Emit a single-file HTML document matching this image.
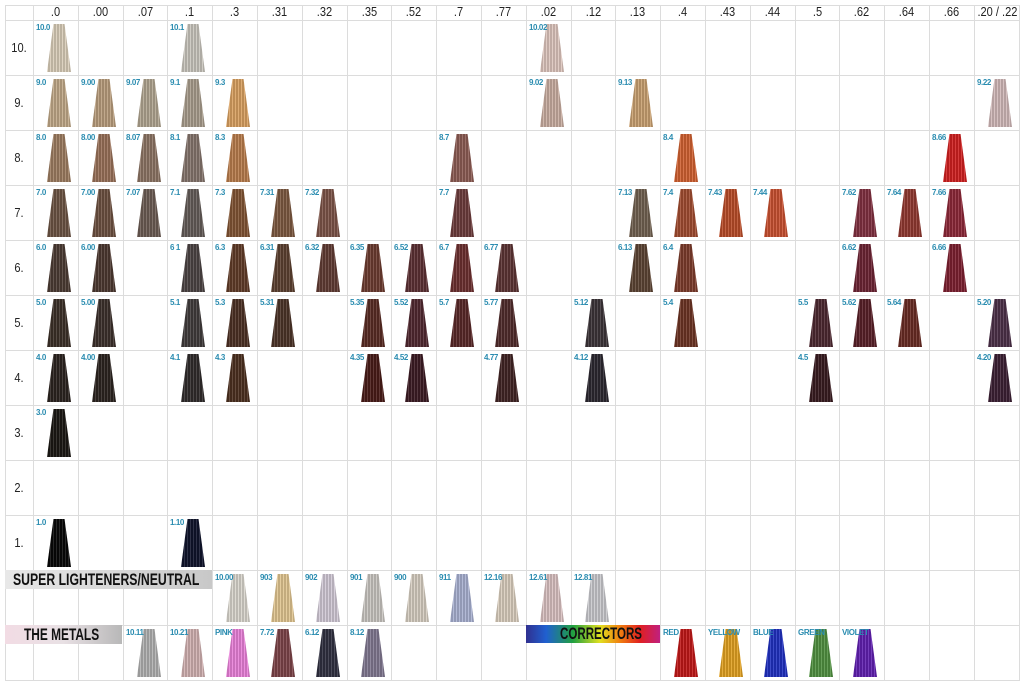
<!DOCTYPE html>
<html><head><meta charset="utf-8"><style>
body{margin:0;width:1024px;height:687px;background:#fff;position:relative;overflow:hidden;font-family:"Liberation Sans",sans-serif}
.v{position:absolute;top:5px;height:675px;width:1px;background:#dcdcdc}
.h{position:absolute;left:5px;width:1015px;height:1px;background:#dcdcdc}
.hd{position:absolute;top:4px;width:45px;text-align:center;font-size:13px;color:#222;transform:scaleX(.85)}
.rl{position:absolute;left:8px;width:22px;text-align:center;font-size:13px;color:#222;transform:scaleX(.85)}
.c{position:absolute;width:44px;height:55px}
.c b{position:absolute;left:3px;top:3px;font-size:8px;color:#2a8cb0;font-weight:bold;letter-spacing:-.4px;white-space:nowrap;z-index:2}
.c i{position:absolute;left:14px;top:4px;width:24px;height:48px;clip-path:polygon(27% 0,73% 0,100% 100%,0 100%);background-image:repeating-linear-gradient(90deg,rgba(255,255,255,.13) 0 1px,rgba(0,0,0,.13) 1px 3px)}
.bar{position:absolute;font-weight:bold;color:#111;font-size:17px;line-height:19px;transform-origin:left;white-space:nowrap}
</style></head><body>
<div class="v" style="left:5px"></div><div class="v" style="left:33px"></div><div class="v" style="left:78px"></div><div class="v" style="left:123px"></div><div class="v" style="left:167px"></div><div class="v" style="left:212px"></div><div class="v" style="left:257px"></div><div class="v" style="left:302px"></div><div class="v" style="left:347px"></div><div class="v" style="left:391px"></div><div class="v" style="left:436px"></div><div class="v" style="left:481px"></div><div class="v" style="left:526px"></div><div class="v" style="left:571px"></div><div class="v" style="left:615px"></div><div class="v" style="left:660px"></div><div class="v" style="left:705px"></div><div class="v" style="left:750px"></div><div class="v" style="left:795px"></div><div class="v" style="left:839px"></div><div class="v" style="left:884px"></div><div class="v" style="left:929px"></div><div class="v" style="left:974px"></div><div class="v" style="left:1019px"></div>
<div class="h" style="top:5px"></div><div class="h" style="top:20px"></div><div class="h" style="top:75px"></div><div class="h" style="top:130px"></div><div class="h" style="top:185px"></div><div class="h" style="top:240px"></div><div class="h" style="top:295px"></div><div class="h" style="top:350px"></div><div class="h" style="top:405px"></div><div class="h" style="top:460px"></div><div class="h" style="top:515px"></div><div class="h" style="top:570px"></div><div class="h" style="top:625px"></div><div class="h" style="top:680px"></div>

<div class="hd" style="left:33px">.0</div><div class="hd" style="left:78px">.00</div><div class="hd" style="left:123px">.07</div><div class="hd" style="left:167px">.1</div><div class="hd" style="left:212px">.3</div><div class="hd" style="left:257px">.31</div><div class="hd" style="left:302px">.32</div><div class="hd" style="left:347px">.35</div><div class="hd" style="left:391px">.52</div><div class="hd" style="left:436px">.7</div><div class="hd" style="left:481px">.77</div><div class="hd" style="left:526px">.02</div><div class="hd" style="left:571px">.12</div><div class="hd" style="left:615px">.13</div><div class="hd" style="left:660px">.4</div><div class="hd" style="left:705px">.43</div><div class="hd" style="left:750px">.44</div><div class="hd" style="left:795px">.5</div><div class="hd" style="left:839px">.62</div><div class="hd" style="left:884px">.64</div><div class="hd" style="left:929px">.66</div><div class="hd" style="left:974px;width:46px;white-space:nowrap">.20 / .22</div>

<div class="rl" style="top:40px">10.</div><div class="rl" style="top:95px">9.</div><div class="rl" style="top:150px">8.</div><div class="rl" style="top:205px">7.</div><div class="rl" style="top:260px">6.</div><div class="rl" style="top:315px">5.</div><div class="rl" style="top:370px">4.</div><div class="rl" style="top:425px">3.</div><div class="rl" style="top:480px">2.</div><div class="rl" style="top:535px">1.</div>

<div class="c" style="left:33px;top:20px"><b>10.0</b><i style="background-color:#d8ccb8"></i></div>
<div class="c" style="left:167px;top:20px"><b>10.1</b><i style="background-color:#c8c4bc"></i></div>
<div class="c" style="left:526px;top:20px"><b>10.02</b><i style="background-color:#dcc4bc"></i></div>
<div class="c" style="left:33px;top:75px"><b>9.0</b><i style="background-color:#c0a888"></i></div>
<div class="c" style="left:78px;top:75px"><b>9.00</b><i style="background-color:#b89c7c"></i></div>
<div class="c" style="left:123px;top:75px"><b>9.07</b><i style="background-color:#b0a490"></i></div>
<div class="c" style="left:167px;top:75px"><b>9.1</b><i style="background-color:#a89c8c"></i></div>
<div class="c" style="left:212px;top:75px"><b>9.3</b><i style="background-color:#d8a060"></i></div>
<div class="c" style="left:526px;top:75px"><b>9.02</b><i style="background-color:#c8aca0"></i></div>
<div class="c" style="left:615px;top:75px"><b>9.13</b><i style="background-color:#c8a070"></i></div>
<div class="c" style="left:974px;top:75px"><b>9.22</b><i style="background-color:#d0b8b8"></i></div>
<div class="c" style="left:33px;top:130px"><b>8.0</b><i style="background-color:#9c7c60"></i></div>
<div class="c" style="left:78px;top:130px"><b>8.00</b><i style="background-color:#987058"></i></div>
<div class="c" style="left:123px;top:130px"><b>8.07</b><i style="background-color:#8c7464"></i></div>
<div class="c" style="left:167px;top:130px"><b>8.1</b><i style="background-color:#84746c"></i></div>
<div class="c" style="left:212px;top:130px"><b>8.3</b><i style="background-color:#b87c4c"></i></div>
<div class="c" style="left:436px;top:130px"><b>8.7</b><i style="background-color:#8c5c54"></i></div>
<div class="c" style="left:660px;top:130px"><b>8.4</b><i style="background-color:#d06030"></i></div>
<div class="c" style="left:929px;top:130px"><b>8.66</b><i style="background-color:#d02020"></i></div>
<div class="c" style="left:33px;top:185px"><b>7.0</b><i style="background-color:#6c5444"></i></div>
<div class="c" style="left:78px;top:185px"><b>7.00</b><i style="background-color:#6c5040"></i></div>
<div class="c" style="left:123px;top:185px"><b>7.07</b><i style="background-color:#6c5c54"></i></div>
<div class="c" style="left:167px;top:185px"><b>7.1</b><i style="background-color:#645c58"></i></div>
<div class="c" style="left:212px;top:185px"><b>7.3</b><i style="background-color:#805434"></i></div>
<div class="c" style="left:257px;top:185px"><b>7.31</b><i style="background-color:#7c5840"></i></div>
<div class="c" style="left:302px;top:185px"><b>7.32</b><i style="background-color:#7c5448"></i></div>
<div class="c" style="left:436px;top:185px"><b>7.7</b><i style="background-color:#6c3c3c"></i></div>
<div class="c" style="left:615px;top:185px"><b>7.13</b><i style="background-color:#706050"></i></div>
<div class="c" style="left:660px;top:185px"><b>7.4</b><i style="background-color:#a04c30"></i></div>
<div class="c" style="left:705px;top:185px"><b>7.43</b><i style="background-color:#b84c28"></i></div>
<div class="c" style="left:750px;top:185px"><b>7.44</b><i style="background-color:#c85030"></i></div>
<div class="c" style="left:839px;top:185px"><b>7.62</b><i style="background-color:#803040"></i></div>
<div class="c" style="left:884px;top:185px"><b>7.64</b><i style="background-color:#903830"></i></div>
<div class="c" style="left:929px;top:185px"><b>7.66</b><i style="background-color:#8c2838"></i></div>
<div class="c" style="left:33px;top:240px"><b>6.0</b><i style="background-color:#4c3c34"></i></div>
<div class="c" style="left:78px;top:240px"><b>6.00</b><i style="background-color:#4c3830"></i></div>
<div class="c" style="left:167px;top:240px"><b>6 1</b><i style="background-color:#4c4444"></i></div>
<div class="c" style="left:212px;top:240px"><b>6.3</b><i style="background-color:#603c28"></i></div>
<div class="c" style="left:257px;top:240px"><b>6.31</b><i style="background-color:#5c4030"></i></div>
<div class="c" style="left:302px;top:240px"><b>6.32</b><i style="background-color:#603c34"></i></div>
<div class="c" style="left:347px;top:240px"><b>6.35</b><i style="background-color:#6c3c30"></i></div>
<div class="c" style="left:391px;top:240px"><b>6.52</b><i style="background-color:#5c3034"></i></div>
<div class="c" style="left:436px;top:240px"><b>6.7</b><i style="background-color:#6c3030"></i></div>
<div class="c" style="left:481px;top:240px"><b>6.77</b><i style="background-color:#5c3434"></i></div>
<div class="c" style="left:615px;top:240px"><b>6.13</b><i style="background-color:#5c4434"></i></div>
<div class="c" style="left:660px;top:240px"><b>6.4</b><i style="background-color:#7c3c2c"></i></div>
<div class="c" style="left:839px;top:240px"><b>6.62</b><i style="background-color:#6c2434"></i></div>
<div class="c" style="left:929px;top:240px"><b>6.66</b><i style="background-color:#7c2030"></i></div>
<div class="c" style="left:33px;top:295px"><b>5.0</b><i style="background-color:#3c3028"></i></div>
<div class="c" style="left:78px;top:295px"><b>5.00</b><i style="background-color:#3c302c"></i></div>
<div class="c" style="left:167px;top:295px"><b>5.1</b><i style="background-color:#403c3c"></i></div>
<div class="c" style="left:212px;top:295px"><b>5.3</b><i style="background-color:#4c3024"></i></div>
<div class="c" style="left:257px;top:295px"><b>5.31</b><i style="background-color:#4c3428"></i></div>
<div class="c" style="left:347px;top:295px"><b>5.35</b><i style="background-color:#582c24"></i></div>
<div class="c" style="left:391px;top:295px"><b>5.52</b><i style="background-color:#502830"></i></div>
<div class="c" style="left:436px;top:295px"><b>5.7</b><i style="background-color:#582828"></i></div>
<div class="c" style="left:481px;top:295px"><b>5.77</b><i style="background-color:#502c2c"></i></div>
<div class="c" style="left:571px;top:295px"><b>5.12</b><i style="background-color:#3c3438"></i></div>
<div class="c" style="left:660px;top:295px"><b>5.4</b><i style="background-color:#6c3424"></i></div>
<div class="c" style="left:795px;top:295px"><b>5.5</b><i style="background-color:#4c2830"></i></div>
<div class="c" style="left:839px;top:295px"><b>5.62</b><i style="background-color:#582028"></i></div>
<div class="c" style="left:884px;top:295px"><b>5.64</b><i style="background-color:#682c24"></i></div>
<div class="c" style="left:974px;top:295px"><b>5.20</b><i style="background-color:#4c3048"></i></div>
<div class="c" style="left:33px;top:350px"><b>4.0</b><i style="background-color:#2c2420"></i></div>
<div class="c" style="left:78px;top:350px"><b>4.00</b><i style="background-color:#2c2420"></i></div>
<div class="c" style="left:167px;top:350px"><b>4.1</b><i style="background-color:#302c2c"></i></div>
<div class="c" style="left:212px;top:350px"><b>4.3</b><i style="background-color:#4c3020"></i></div>
<div class="c" style="left:347px;top:350px"><b>4.35</b><i style="background-color:#481c18"></i></div>
<div class="c" style="left:391px;top:350px"><b>4.52</b><i style="background-color:#3c1c24"></i></div>
<div class="c" style="left:481px;top:350px"><b>4.77</b><i style="background-color:#402424"></i></div>
<div class="c" style="left:571px;top:350px"><b>4.12</b><i style="background-color:#2c2830"></i></div>
<div class="c" style="left:795px;top:350px"><b>4.5</b><i style="background-color:#381c20"></i></div>
<div class="c" style="left:974px;top:350px"><b>4.20</b><i style="background-color:#3c2034"></i></div>
<div class="c" style="left:33px;top:405px"><b>3.0</b><i style="background-color:#1c1814"></i></div>
<div class="c" style="left:33px;top:515px"><b>1.0</b><i style="background-color:#080808"></i></div>
<div class="c" style="left:167px;top:515px"><b>1.10</b><i style="background-color:#10142c"></i></div>

<div style="position:absolute;left:5px;top:570px;width:207px;height:19px;background:linear-gradient(90deg,#e8e8e8,#c8c8c8)"></div>
<div class="bar" style="left:13px;top:570px;transform:scaleX(.72)">SUPER LIGHTENERS/NEUTRAL</div>
<div class="c" style="left:212px;top:570px"><b>10.00</b><i style="background-color:#d8d4cc"></i></div>
<div class="c" style="left:257px;top:570px"><b>903</b><i style="background-color:#e0c490"></i></div>
<div class="c" style="left:302px;top:570px"><b>902</b><i style="background-color:#d0c8d4"></i></div>
<div class="c" style="left:347px;top:570px"><b>901</b><i style="background-color:#c8c4c0"></i></div>
<div class="c" style="left:391px;top:570px"><b>900</b><i style="background-color:#d4ccc0"></i></div>
<div class="c" style="left:436px;top:570px"><b>911</b><i style="background-color:#a8b0d0"></i></div>
<div class="c" style="left:481px;top:570px"><b>12.16</b><i style="background-color:#d8ccbc"></i></div>
<div class="c" style="left:526px;top:570px"><b>12.61</b><i style="background-color:#d8c0c0"></i></div>
<div class="c" style="left:571px;top:570px"><b>12.81</b><i style="background-color:#c8c8cc"></i></div>

<div style="position:absolute;left:5px;top:625px;width:117px;height:19px;background:linear-gradient(90deg,#f2dce4,#e8e0e4 50%,#b8b8b8)"></div>
<div class="bar" style="left:24px;top:625px;transform:scaleX(.7)">THE METALS</div>
<div class="c" style="left:123px;top:625px"><b>10.11</b><i style="background-color:#b0b0b0"></i></div>
<div class="c" style="left:167px;top:625px"><b>10.21</b><i style="background-color:#d0b0b0"></i></div>
<div class="c" style="left:212px;top:625px"><b>PINK</b><i style="background-color:#e880d8"></i></div>
<div class="c" style="left:257px;top:625px"><b>7.72</b><i style="background-color:#7c4448"></i></div>
<div class="c" style="left:302px;top:625px"><b>6.12</b><i style="background-color:#303040"></i></div>
<div class="c" style="left:347px;top:625px"><b>8.12</b><i style="background-color:#807890"></i></div>
<div style="position:absolute;left:526px;top:625px;width:134px;height:18px;background:linear-gradient(90deg,#303090,#2060d0 15%,#20a040 35%,#e0e020 55%,#f08010 70%,#e02020 85%,#c02080)"></div>
<div class="bar" style="left:560px;top:624px;transform:scaleX(.68)">CORRECTORS</div>
<div class="c" style="left:660px;top:625px"><b>RED</b><i style="background-color:#c01818"></i></div>
<div class="c" style="left:705px;top:625px"><b>YELLOW</b><i style="background-color:#e0a020"></i></div>
<div class="c" style="left:750px;top:625px"><b>BLUE</b><i style="background-color:#2030c0"></i></div>
<div class="c" style="left:795px;top:625px"><b>GREEN</b><i style="background-color:#509040"></i></div>
<div class="c" style="left:839px;top:625px"><b>VIOLET</b><i style="background-color:#6020b0"></i></div>
</body></html>
